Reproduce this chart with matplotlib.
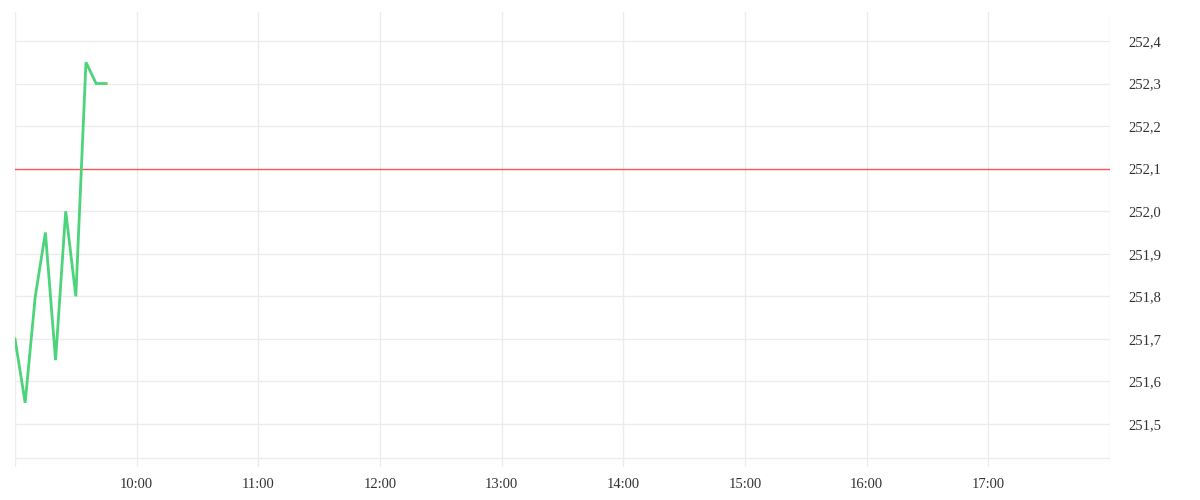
import matplotlib
matplotlib.use("Agg")
import matplotlib.pyplot as plt

times = ["09:00", "09:05", "09:10", "09:15", "09:20", "09:25",
         "09:30", "09:35", "09:40", "09:45"]
prices = [251.70, 251.55, 251.80, 251.95, 251.65, 252.00,
          251.80, 252.35, 252.30, 252.30]
ref_price = 252.10
x_ticks = ["10:00", "11:00", "12:00", "13:00", "14:00", "15:00", "16:00", "17:00"]
y_ticks = [251.5, 251.6, 251.7, 251.8, 251.9, 252.0, 252.1, 252.2, 252.3, 252.4]


def to_hours(t):
    h, m = t.split(":")
    return int(h) + int(m) / 60


plt.rcParams["font.family"] = ["Liberation Serif", "DejaVu Serif"]

fig = plt.figure(figsize=(12, 5), dpi=100)
ax = fig.add_axes([0.0125, 0.066, 0.9125, 0.91])

grid_c = "#ececec"
for h in range(9, 19):
    ax.axvline(h, color=grid_c, linewidth=1, zorder=0)
for y in y_ticks:
    if y != ref_price:
        ax.axhline(y, color=grid_c, linewidth=1, zorder=0)
ax.axhline(251.42, color=grid_c, linewidth=1, zorder=0)

ax.axhline(ref_price, color="#ff5457", linewidth=1.0, zorder=2)
ax.plot([to_hours(t) for t in times], prices, color="#4cd47a",
        linewidth=2.0, zorder=3, solid_joinstyle="miter")

ax.set_xlim(9, 18)
ax.set_ylim(251.399, 252.468)

ax.set_xticks([to_hours(t) for t in x_ticks])
ax.set_xticklabels(x_ticks)
ax.set_yticks(y_ticks)
ax.set_yticklabels([f"{v:.1f}".replace(".", ",") for v in y_ticks])
ax.yaxis.tick_right()
ax.tick_params(axis="both", length=0, labelsize=10.5, colors="#333333")
ax.tick_params(axis="x", pad=8)
ax.tick_params(axis="y", pad=13)
for s in ax.spines.values():
    s.set_visible(False)

fig.savefig("out.png", dpi=100, facecolor="white")
